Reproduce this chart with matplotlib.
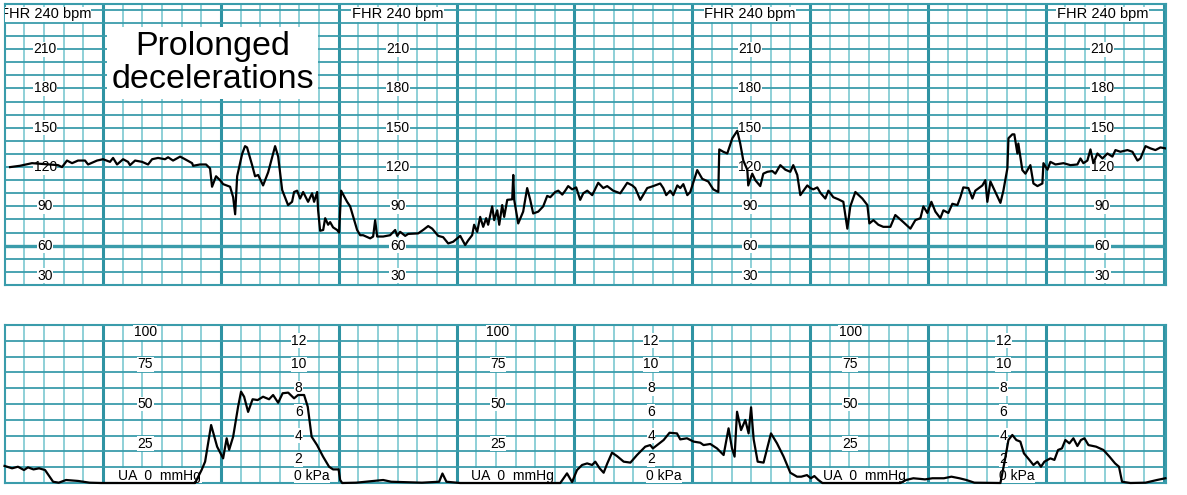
import matplotlib
matplotlib.use("Agg")
from matplotlib import pyplot as plt
import numpy as np

plt.rcParams['font.family'] = ['Liberation Sans', 'DejaVu Sans']

# time in minutes (thick lines = whole minutes), FHR in bpm
fhr_t = [0.211, 0.295, 0.397, 0.618, 0.652, 0.694, 0.737, 0.788, 0.847, 0.873, 0.949, 1.000,
         1.059, 1.085, 1.119, 1.170, 1.212, 1.229, 1.272, 1.331, 1.382, 1.416, 1.467, 1.526,
         1.552, 1.594, 1.654, 1.696, 1.756, 1.764, 1.823, 1.874, 1.908, 1.925, 1.959, 1.993,
         2.019, 2.078, 2.104, 2.121, 2.138, 2.180, 2.205, 2.222, 2.265, 2.290, 2.316, 2.358,
         2.401, 2.460, 2.486, 2.520, 2.570, 2.604, 2.621, 2.647, 2.672, 2.698, 2.740, 2.774,
         2.791, 2.817, 2.825, 2.842, 2.868, 2.885, 2.910, 2.927, 2.952, 2.986, 3.003, 3.020,
         3.071, 3.097, 3.156, 3.182, 3.207, 3.267, 3.292, 3.309, 3.326, 3.377, 3.436, 3.479,
         3.496, 3.521, 3.564, 3.589, 3.674, 3.716, 3.759, 3.793, 3.844, 3.886, 3.929, 3.971,
         4.005, 4.031, 4.073, 4.098, 4.132, 4.149, 4.175, 4.200, 4.226, 4.251, 4.268, 4.302,
         4.319, 4.345, 4.362, 4.387, 4.404, 4.430, 4.472, 4.481, 4.489, 4.523, 4.565, 4.599,
         4.625, 4.650, 4.693, 4.735, 4.769, 4.795, 4.837, 4.863, 4.897, 4.922, 4.947, 4.981,
         5.015, 5.049, 5.075, 5.109, 5.151, 5.202, 5.245, 5.278, 5.329, 5.389, 5.448, 5.491,
         5.516, 5.559, 5.618, 5.669, 5.728, 5.754, 5.779, 5.813, 5.839, 5.873, 5.898, 5.924,
         5.958, 5.983, 6.042, 6.085, 6.110, 6.136, 6.178, 6.221, 6.229, 6.263, 6.297, 6.340,
         6.382, 6.407, 6.433, 6.467, 6.475, 6.509, 6.535, 6.577, 6.603, 6.637, 6.679, 6.705,
         6.747, 6.790, 6.832, 6.857, 6.891, 6.917, 6.976, 7.002, 7.027, 7.061, 7.087, 7.129,
         7.155, 7.197, 7.240, 7.282, 7.316, 7.341, 7.384, 7.443, 7.486, 7.503, 7.537, 7.579,
         7.621, 7.681, 7.723, 7.791, 7.851, 7.893, 7.936, 7.961, 7.995, 8.029, 8.063, 8.105,
         8.131, 8.173, 8.207, 8.250, 8.275, 8.300, 8.343, 8.377, 8.402, 8.462, 8.487, 8.504,
         8.530, 8.572, 8.615, 8.640, 8.674, 8.683, 8.716, 8.733, 8.759, 8.767, 8.801, 8.827,
         8.869, 8.895, 8.929, 8.971, 8.980, 9.014, 9.039, 9.082, 9.150, 9.209, 9.268, 9.294,
         9.319, 9.353, 9.379, 9.404, 9.438, 9.481, 9.523, 9.565, 9.591, 9.633, 9.693, 9.735,
         9.778, 9.803, 9.846, 9.888, 9.930, 9.973, 10.015]
fhr_bpm = [120, 121, 123, 121.5, 120, 125, 123, 125, 125, 122, 125, 126,
           124, 127, 122, 126, 124, 121.5, 125, 124, 122, 126, 127, 126,
           127.5, 125, 128, 126, 123, 121, 122, 122, 119, 105, 113, 110,
           107, 105, 97, 84, 113, 130, 136, 135, 121.5, 113, 114, 106,
           116, 136, 128, 102.5, 91, 93.5, 101, 102, 96, 101, 93.5, 100,
           93.5, 101, 87, 71.4, 72, 81, 76, 78, 74, 72, 70, 102,
           93.5, 90, 72, 68, 68, 65.6, 67, 79.5, 67, 67, 68, 72,
           67.5, 70.6, 67.5, 69, 69.4, 72, 75, 73, 67.5, 66.5, 61.7, 63,
           65.6, 67.5, 60.5, 64, 68, 76, 70.6, 82, 74.4, 81, 76, 90,
           79.5, 87, 76, 91, 82, 95, 95.4, 114, 95, 77, 86, 104,
           95, 84.6, 86, 90, 98, 97, 101, 102, 99, 102, 105.5, 103,
           104.5, 95, 100, 102, 98.6, 108, 104, 105.5, 102, 100, 108, 106,
           104, 95, 104, 105.5, 107.5, 104, 98.6, 102, 98.6, 106, 104, 107,
           98.6, 101, 117.7, 111, 110, 109, 103, 101, 133.5, 131.7, 130.4, 142,
           147.7, 138, 125, 118, 106, 115, 110, 105.5, 115, 116.4, 117, 115,
           121.5, 118, 116.4, 121.5, 114, 98.6, 106, 104, 103, 104.5, 100.4, 96,
           102, 97, 95.4, 93.5, 73, 90, 101, 96, 91, 77, 79.5, 76,
           74.4, 74.4, 83.4, 78, 73, 79.5, 81, 90, 85, 93.5, 86, 81,
           87, 85, 92, 91, 97, 104.5, 104, 96, 102, 106, 110, 93.5,
           109, 101, 92.7, 102, 119, 142, 145, 145, 130.4, 138, 117.7, 115,
           121.5, 107.5, 105.5, 107.5, 123, 118, 124, 122, 123, 121.5, 122, 126.6,
           123, 125, 133.5, 123, 130.4, 126.6, 130.4, 128, 133, 131.7, 133, 131.7,
           125, 126.6, 136, 134.3, 133, 135, 134.3]

# uterine activity, mmHg
ua_t = [0.164, 0.228, 0.278, 0.329, 0.363, 0.410, 0.457, 0.508, 0.576, 0.624, 0.686, 0.788,
        0.885, 0.983, 1.781, 1.836, 1.866, 1.917, 1.968, 2.019, 2.049, 2.070, 2.104, 2.146,
        2.171, 2.197, 2.231, 2.269, 2.312, 2.358, 2.409, 2.443, 2.486, 2.524, 2.571, 2.621,
        2.655, 2.706, 2.737, 2.770, 2.816, 2.867, 2.918, 2.952, 2.999, 3.012, 3.029, 3.148,
        3.377, 3.445, 3.706, 3.852, 3.880, 3.914, 4.031, 4.880, 4.937, 4.980, 5.022, 5.065,
        5.108, 5.150, 5.177, 5.214, 5.248, 5.279, 5.319, 5.362, 5.418, 5.475, 5.531, 5.601,
        5.643, 5.666, 5.714, 5.757, 5.807, 5.870, 5.898, 5.955, 6.011, 6.068, 6.096, 6.153,
        6.210, 6.266, 6.308, 6.337, 6.359, 6.380, 6.414, 6.450, 6.478, 6.499, 6.521, 6.555,
        6.605, 6.668, 6.719, 6.775, 6.832, 6.889, 6.925, 6.973, 7.006, 7.036, 7.070, 7.104,
        7.766, 7.814, 7.876, 7.975, 8.038, 8.136, 8.199, 8.267, 8.326, 8.394, 8.615, 8.653,
        8.683, 8.716, 8.750, 8.784, 8.814, 8.861, 8.895, 8.929, 8.959, 8.988, 9.039, 9.073,
        9.104, 9.137, 9.166, 9.200, 9.234, 9.268, 9.298, 9.328, 9.362, 9.427, 9.489, 9.540,
        9.588, 9.621, 9.647, 9.718, 9.846, 9.943, 10.015]
ua_mmhg = [10.8, 9.3, 10.3, 8.2, 9.9, 8.6, 9.3, 8.2, 0.8, 0.2, 1.9, 1.3,
           0.2, 0, 0, 8.2, 13.5, 36.7, 23, 15.6, 28.3, 21, 29.3, 48.3,
           57.8, 54.6, 45, 53, 52.5, 54.6, 53, 55.7, 50.8, 56.8, 57.2, 53.6,
           55.7, 55.7, 48.3, 29.3, 24, 16.7, 10.3, 8.6, 8.6, 1.9, 0, 0.2,
           1.9, 0.8, 0.2, 0.8, 6, 0.8, 0, 0, 6.1, 0.6, 8.2, 11.4,
           12.4, 11.4, 13.5, 9.3, 6.5, 12.4, 19.2, 17, 13.5, 12.9, 17.7, 23,
           24, 21.9, 24.7, 27.2, 31.8, 31.4, 27.6, 28.3, 26.2, 25.5, 24, 24.7,
           21.9, 17.7, 34.6, 21.9, 16.7, 45.1, 33.5, 39.9, 31.4, 47.9, 27.6, 13.5,
           12.9, 31.4, 25.1, 16.7, 6.5, 4, 4, 5, 3, 4.4, 1.9, 0,
           0, 1.9, 3, 2.3, 3, 3, 4, 3, 1.9, 0.2, 0, 14.6,
           27.2, 30.4, 27.2, 26.2, 18.8, 14.6, 11.4, 13.5, 10.3, 13.5, 15.6, 14.6,
           20.9, 21.9, 27.2, 25.1, 28.3, 23.4, 27.2, 28.3, 24, 23, 20.9, 16.7,
           12.4, 10.3, 0.8, 0, 0.2, 1.9, 3]

fhr_labels = [210, 180, 150, 120, 90, 60, 30]
ua_labels = [100, 75, 50, 25]
kpa_labels = [12, 10, 8, 6, 4, 2]
label_cols = [0.51, 3.50, 6.49, 9.48]

t0, t1 = 0.168, 10.02
h_col = '#3a9cab'
v_col = '#86cdd4'
v_major = '#2f93a3'
lbl_box = dict(facecolor='white', edgecolor='none', pad=0.3)

fig = plt.figure(figsize=(11.87, 4.95), dpi=100)
ax1 = fig.add_axes([5/1187, 1 - 285/495, 1161/1187, 281/495])
ax2 = fig.add_axes([5/1187, 12/495, 1161/1187, 158/495])

def paper(ax, ylo, yhi, ystep):
    minor = np.arange(1, 61) / 6.0
    for x in minor:
        if x <= t0 or x >= t1:
            continue
        if abs(x - round(x)) < 1e-6:
            ax.axvline(x, color=v_major, lw=2.2, zorder=1)
        else:
            ax.axvline(x, color=v_col, lw=1.3, zorder=1)
    for y in np.arange(ylo + ystep, yhi, ystep):
        ax.axhline(y, color=h_col, lw=1.3, zorder=1.5)
    ax.set_xlim(t0, t1)
    ax.set_xticks([])
    ax.set_yticks([])
    for s in ax.spines.values():
        s.set_color(h_col)
        s.set_linewidth(1.5)

# FHR panel
paper(ax1, 30, 244.5, 10)
ax1.set_ylim(30, 244.5)
ax1.axhline(60, color=h_col, lw=2.4, zorder=1.5)
for c in label_cols:
    for v in fhr_labels:
        yy = 37 if v == 30 else v
        ax1.text(c, yy, str(v), ha='center', va='center', fontsize=10,
                 bbox=lbl_box, zorder=3, clip_on=True)
    ax1.text(c, 236.5, 'FHR 240 bpm', ha='center', va='center', fontsize=10.5,
             bbox=lbl_box, zorder=3, clip_on=True)
ax1.plot(fhr_t, fhr_bpm, color='black', lw=1.6, zorder=4)
ax1.text(1.93, 199.5, 'Prolonged\ndecelerations', ha='center', va='center',
         fontsize=24.5, linespacing=1.05, zorder=5,
         bbox=dict(facecolor='white', edgecolor='none', pad=3))

# UA panel
for c in label_cols[:3]:
    ua_x = c + 0.85
    kpa_x = c + 2.15
    for v in ua_labels:
        yy = 95.5 if v == 100 else v
        ax2.text(ua_x, yy, str(v), ha='center', va='center', fontsize=10,
                 bbox=lbl_box, zorder=3, clip_on=True)
    for v in kpa_labels:
        ax2.text(kpa_x, v * 7.5, str(v), ha='center', va='center', fontsize=10,
                 bbox=lbl_box, zorder=3, clip_on=True)
    ax2.text(ua_x - 0.23, 4.5, 'UA  0  mmHg', ha='left', va='center', fontsize=10,
             bbox=lbl_box, zorder=3, clip_on=True)
    ax2.text(kpa_x - 0.04, 4.5, '0 kPa', ha='left', va='center', fontsize=10,
             bbox=lbl_box, zorder=3, clip_on=True)
paper(ax2, 0, 100, 10)
ax2.set_ylim(0, 100)
ax2.plot(ua_t, ua_mmhg, color='black', lw=1.6, zorder=4, clip_on=False)

plt.savefig('out.png', dpi=100)
